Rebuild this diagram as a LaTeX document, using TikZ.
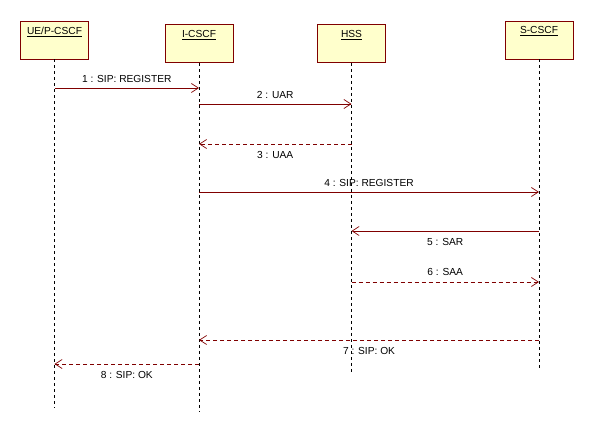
\documentclass[tikz,border=0pt]{standalone}
\usepackage{fontspec}
\setmainfont{Liberation Sans}
\usetikzlibrary{arrows.meta}
\definecolor{boxfill}{HTML}{FFFFCC}
\definecolor{dred}{HTML}{800000}
\tikzset{
  obj/.style={draw=dred, fill=boxfill, line width=0.7pt, minimum width=68pt, minimum height=38pt, inner sep=0pt},
  objtitle/.style={anchor=north, inner sep=0pt, font=\fontsize{10.2}{11}\selectfont},
  lifeline/.style={draw=black, line width=0.6pt, dash pattern=on 3pt off 3pt},
  msg/.style={draw=dred, line width=0.7pt, -{Straight Barb[length=7pt,width=9pt,line width=0.7pt]}},
  ret/.style={msg, dash pattern=on 4pt off 3pt},
  lbl/.style={font=\fontsize{10.2}{11}\selectfont, inner sep=0pt, text=black}
}
\begin{document}
\begin{tikzpicture}[x=1pt,y=-1pt]
\useasboundingbox (0,0) rectangle (593,427);
% objects
\node[obj] (ue)  at (54.5,40) {};
\node[obj] (ic)  at (199,43.5) {};
\node[obj] (hss) at (351.5,43.5) {};
\node[obj] (sc)  at (539,40) {};
\node[objtitle] (uet)  at ([yshift=-6pt]ue.north)  {\underline{UE/P-CSCF}};
\node[objtitle] (ict)  at ([yshift=-6pt]ic.north)  {\underline{I-CSCF}};
\node[objtitle] (hsst) at ([yshift=-6pt]hss.north) {\underline{HSS}};
\node[objtitle] (sct)  at ([yshift=-6pt]sc.north)  {\underline{S-CSCF}};
% lifeline ends
\coordinate (uee) at (54.5,408);
\coordinate (ice) at (199,411);
\coordinate (hsse) at (351.5,374);
\coordinate (sce) at (539,370);
\draw[lifeline] (ue.south) -- (uee);
\draw[lifeline] (ic.south) -- (ice);
\draw[lifeline] (hss.south) -- (hsse);
\draw[lifeline] (sc.south) -- (sce);
% message end points
\coordinate (a1) at (54.5,88);  \coordinate (b1) at (199,88);
\coordinate (a2) at (199,104);  \coordinate (b2) at (351.5,104);
\coordinate (a3) at (351.5,144); \coordinate (b3) at (199,144);
\coordinate (a4) at (199,192);  \coordinate (b4) at (539,192);
\coordinate (a5) at (539,231);  \coordinate (b5) at (351.5,231);
\coordinate (a6) at (351.5,282); \coordinate (b6) at (539,282);
\coordinate (a7) at (539,340);  \coordinate (b7) at (199,340);
\coordinate (a8) at (199,364);  \coordinate (b8) at (54.5,364);
% messages
\draw[msg] (a1) -- node[lbl, above=5pt] (l1) {1 : SIP: REGISTER} (b1);
\draw[msg] (a2) -- node[lbl, above=5pt] (l2) {2 : UAR} (b2);
\draw[ret] (a3) -- node[lbl, below=7pt] (l3) {3 : UAA} (b3);
\draw[msg] (a4) -- node[lbl, above=5pt] (l4) {4 : SIP: REGISTER} (b4);
\draw[msg] (a5) -- node[lbl, below=7pt] (l5) {5 : SAR} (b5);
\draw[ret] (a6) -- node[lbl, above=6pt] (l6) {6 : SAA} (b6);
\draw[ret] (a7) -- node[lbl, below=7pt] (l7) {7 : SIP: OK} (b7);
\draw[ret] (a8) -- node[lbl, below=7pt] (l8) {8 : SIP: OK} (b8);
\end{tikzpicture}
\end{document}
